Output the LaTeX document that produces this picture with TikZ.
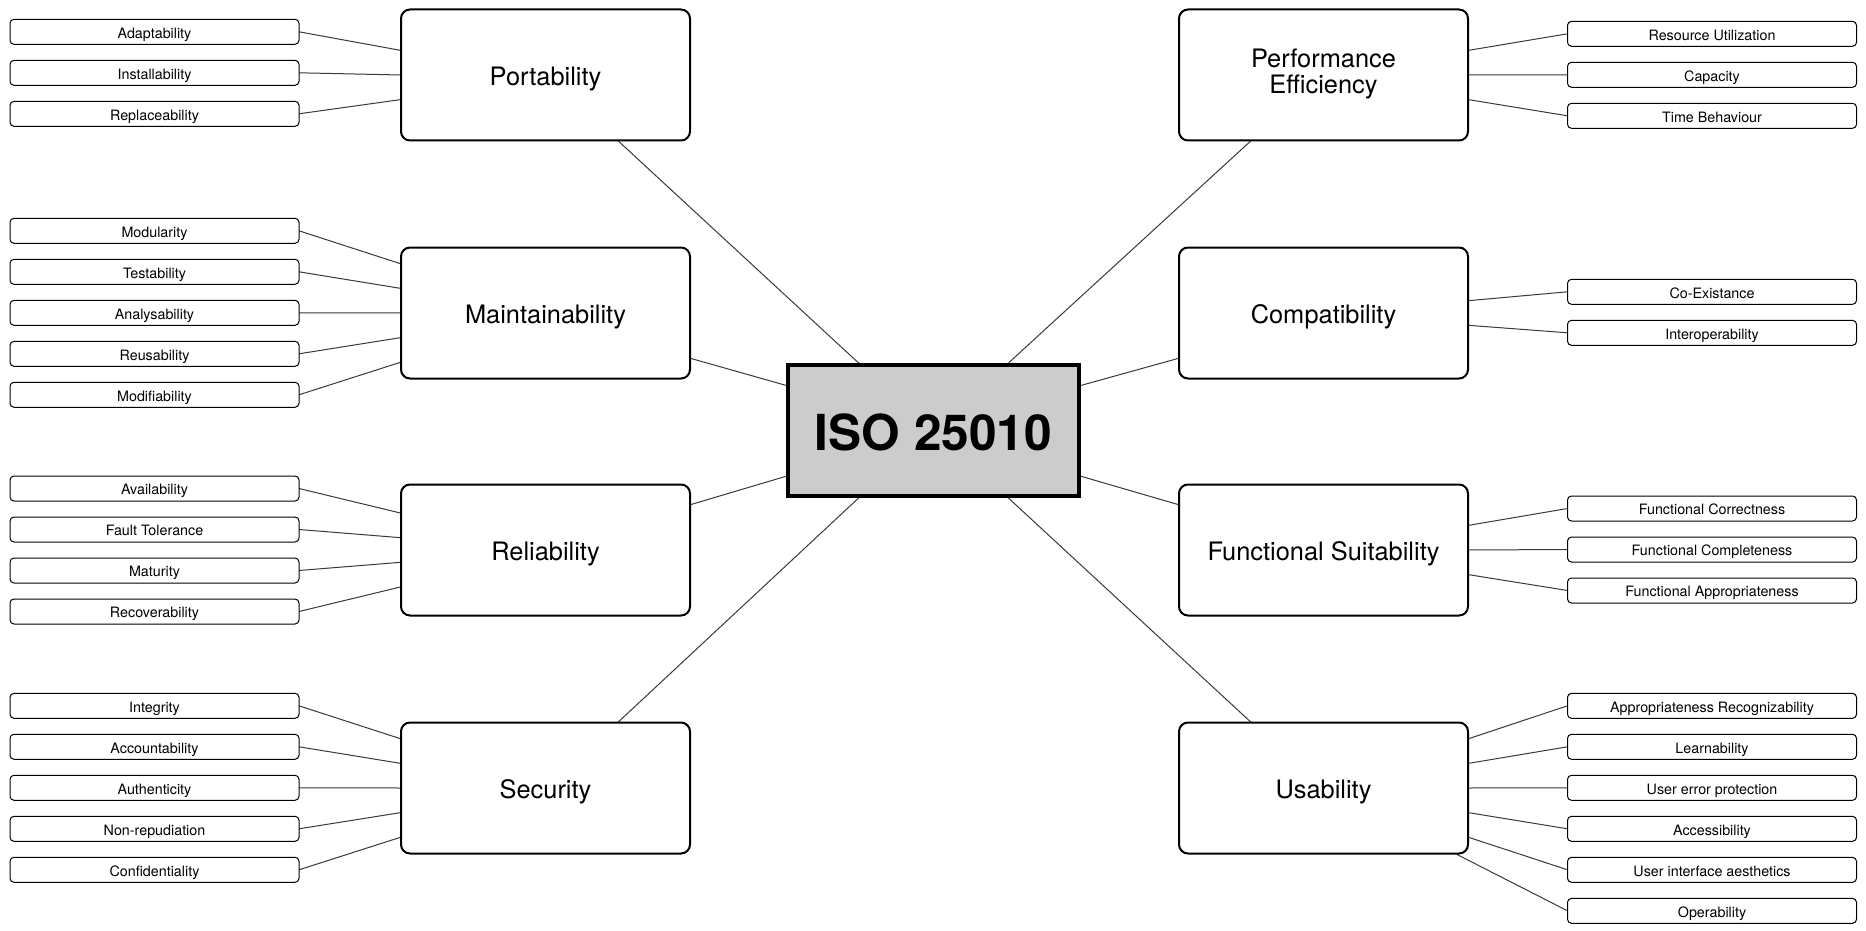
\documentclass[tikz,border=0pt]{standalone}
\usepackage{fontspec}
\setmainfont{TeX Gyre Heros}
\usetikzlibrary{calc}
\pgfdeclarelayer{bg}
\pgfdeclarelayer{edges}
\pgfsetlayers{bg,edges,main}
\definecolor{hubgray}{HTML}{CCCCCC}
\definecolor{linkgray}{HTML}{3A3A3A}
\begin{document}
\begin{tikzpicture}[x=1pt,y=-1pt,
  leaf/.style={draw=black, fill=white, line width=1pt, rounded corners=4pt,
    minimum width=289pt, minimum height=25pt, inner sep=0pt, outer sep=0pt,
    font=\fontsize{14.3}{17}\selectfont, text height=12.9pt, text depth=0pt},
  cat/.style={draw=black, fill=white, line width=2pt, rounded corners=9pt,
    minimum width=289pt, minimum height=131pt, inner sep=0pt, outer sep=0pt,
    align=center, font=\fontsize{25.4}{25}\selectfont, text height=20.8pt, text depth=0pt},
  hub/.style={draw=black, fill=hubgray, line width=4pt,
    minimum width=291pt, minimum height=131pt, inner sep=0pt, outer sep=0pt,
    font=\fontsize{49.6}{58}\selectfont\bfseries, text height=39.5pt, text depth=0pt},
  link/.style={draw=linkgray, line width=1pt}]

\begin{pgfonlayer}{bg}
\fill[white] (0,0) rectangle (1866,931);
\end{pgfonlayer}
\useasboundingbox (0,0) rectangle (1866,931);

% hub
\node[hub] (hub) at (933.5,430.5) {ISO 25010};

% left categories
\node[cat] (port) at (545.5,75) {Portability};
\node[cat] (maint) at (545.5,313) {Maintainability};
\node[cat] (rel) at (545.5,550) {Reliability};
\node[cat] (sec) at (545.5,788) {Security};

% right categories
\node[cat, text height=, text depth=] (perf) at (1323.5,75)
  {\raisebox{-4pt}{\begin{tabular}{@{}c@{}}Performance\\Efficiency\end{tabular}}};
\node[cat] (compat) at (1323.5,313) {Compatibility};
\node[cat] (fs) at (1323.5,550) {Functional Suitability};
\node[cat] (usab) at (1323.5,788) {Usability};

% left leaves
\node[leaf] (adapt) at (154.5,31.8) {Adaptability};
\node[leaf] (inst) at (154.5,72.8) {Installability};
\node[leaf] (repl) at (154.5,113.8) {Replaceability};

\node[leaf] (modu) at (154.5,230.8) {Modularity};
\node[leaf] (test) at (154.5,271.8) {Testability};
\node[leaf] (anal) at (154.5,312.8) {Analysability};
\node[leaf] (reus) at (154.5,353.8) {Reusability};
\node[leaf] (modi) at (154.5,394.8) {Modifiability};

\node[leaf] (avail) at (154.5,488.5) {Availability};
\node[leaf] (fault) at (154.5,529.5) {Fault Tolerance};
\node[leaf] (matu) at (154.5,570.5) {Maturity};
\node[leaf] (reco) at (154.5,611.5) {Recoverability};

\node[leaf] (integ) at (154.5,705.8) {Integrity};
\node[leaf] (acco) at (154.5,746.8) {Accountability};
\node[leaf] (auth) at (154.5,787.8) {Authenticity};
\node[leaf] (nonr) at (154.5,828.8) {Non-repudiation};
\node[leaf] (conf) at (154.5,869.8) {Confidentiality};

% right leaves
\node[leaf] (resu) at (1712,33.8) {Resource Utilization};
\node[leaf] (capa) at (1712,74.8) {Capacity};
\node[leaf] (timeb) at (1712,115.8) {Time Behaviour};

\node[leaf] (coex) at (1712,291.8) {Co-Existance};
\node[leaf] (inter) at (1712,332.8) {Interoperability};

\node[leaf] (fcor) at (1712,508.5) {Functional Correctness};
\node[leaf] (fcom) at (1712,549.5) {Functional Completeness};
\node[leaf] (fapp) at (1712,590.5) {Functional Appropriateness};

\node[leaf] (arec) at (1712,705.8) {Appropriateness Recognizability};
\node[leaf] (lear) at (1712,746.8) {Learnability};
\node[leaf] (uerr) at (1712,787.8) {User error protection};
\node[leaf] (acce) at (1712,828.8) {Accessibility};
\node[leaf] (uiae) at (1712,869.8) {User interface aesthetics};
\node[leaf] (oper) at (1712,910.8) {Operability};

\begin{pgfonlayer}{edges}
% hub connections
\draw[link] ($(port.south west)!0.75!(port.south east)$) -- ($(hub.north west)!0.25!(hub.north east)$);
\draw[link] ($(perf.south west)!0.25!(perf.south east)$) -- ($(hub.north west)!0.75!(hub.north east)$);
\draw[link] ($(sec.north west)!0.75!(sec.north east)$) -- ($(hub.south west)!0.25!(hub.south east)$);
\draw[link] ($(usab.north west)!0.25!(usab.north east)$) -- ($(hub.south west)!0.75!(hub.south east)$);
\draw[link] ($(maint.north east)!0.845!(maint.south east)$) -- ($(hub.north west)!0.16!(hub.south west)$);
\draw[link] ($(rel.north east)!0.155!(rel.south east)$) -- ($(hub.north west)!0.845!(hub.south west)$);
\draw[link] ($(compat.north west)!0.845!(compat.south west)$) -- ($(hub.north east)!0.16!(hub.south east)$);
\draw[link] ($(fs.north west)!0.155!(fs.south west)$) -- ($(hub.north east)!0.845!(hub.south east)$);

% left leaf connections
\foreach \n/\f in {adapt/0.3125, inst/0.5, repl/0.6875}
  \draw[link] (\n.east) -- ($(port.north west)!\f!(port.south west)$);
\foreach \n/\f in {modu/0.125, test/0.3125, anal/0.5, reus/0.6875, modi/0.875}
  \draw[link] (\n.east) -- ($(maint.north west)!\f!(maint.south west)$);
\foreach \n/\f in {avail/0.21875, fault/0.40625, matu/0.59375, reco/0.78125}
  \draw[link] (\n.east) -- ($(rel.north west)!\f!(rel.south west)$);
\foreach \n/\f in {integ/0.125, acco/0.3125, auth/0.5, nonr/0.6875, conf/0.875}
  \draw[link] (\n.east) -- ($(sec.north west)!\f!(sec.south west)$);

% right leaf connections
\foreach \n/\f in {resu/0.3125, capa/0.5, timeb/0.6875}
  \draw[link] (\n.west) -- ($(perf.north east)!\f!(perf.south east)$);
\foreach \n/\f in {coex/0.40625, inter/0.59375}
  \draw[link] (\n.west) -- ($(compat.north east)!\f!(compat.south east)$);
\foreach \n/\f in {fcor/0.3125, fcom/0.5, fapp/0.6875}
  \draw[link] (\n.west) -- ($(fs.north east)!\f!(fs.south east)$);
\foreach \n/\f in {arec/0.125, lear/0.3125, uerr/0.5, acce/0.6875, uiae/0.875}
  \draw[link] (\n.west) -- ($(usab.north east)!\f!(usab.south east)$);
\draw[link] (oper.west) -- ($(usab.south east)+(-11,1)$);
\end{pgfonlayer}
\end{tikzpicture}
\end{document}
